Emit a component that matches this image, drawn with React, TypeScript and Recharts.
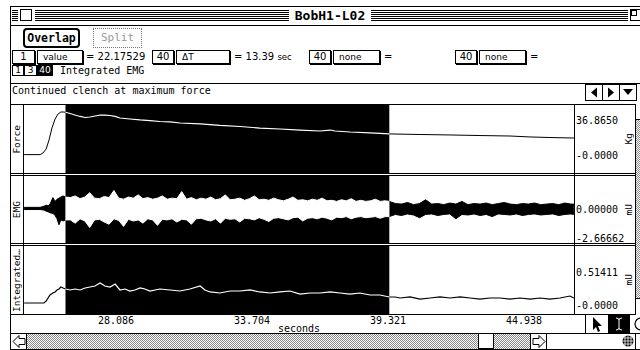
import React from 'react';
import { ComposedChart, Line, Area, XAxis, YAxis, ReferenceArea } from 'recharts';

const MONO = '"DejaVu Sans Mono", monospace';
const SANS = '"DejaVu Sans", sans-serif';

// ---------- time axis (seconds) ----------
const T_MIN = 24.286;
const T_MAX = 47.004;
const SEL_START = 26.0;
const SEL_END = 39.375;
const timeTicks = [28.086, 33.704, 39.321, 44.938];
const timeTickLabels = ['28.086', '33.704', '39.321', '44.938'];

// ---------- Force (Kg) ----------
const forceTime = [24.29, 24.95, 25.07, 25.20, 25.32, 25.44, 25.57, 25.69, 25.81, 25.90,
  26.0, 26.19, 26.39, 26.60, 26.81, 27.01, 27.22, 27.43, 27.63, 27.84,
  28.05, 28.25, 28.66, 29.08, 29.49, 29.90, 30.32, 30.73, 31.56, 32.38,
  33.21, 34.03, 34.86, 35.69, 36.51, 36.93, 37.13, 37.75, 38.58, 39.375,
  40.64, 41.88, 43.12, 44.36, 45.19, 46.01, 47.0];
const forceKg = [0.4, 0.4, 2.1, 6.3, 15.8, 28.4, 37.9, 43.2, 45.3, 45.3,
  45.0, 43.7, 42.1, 40.6, 39.5, 40.0, 41.1, 42.1, 42.1, 41.6,
  40.6, 39.0, 37.9, 36.9, 36.3, 35.3, 34.8, 33.7, 32.7, 31.1,
  30.0, 28.4, 27.4, 26.3, 25.3, 26.3, 25.3, 24.2, 23.2, 22.2,
  21.6, 21.1, 20.5, 20.0, 19.0, 18.4, 17.9];
const forceTicks = [36.865, 0];
const forceTickLabels = ['36.8650', '-0.0000'];

// ---------- EMG (mU) envelope ----------
const emgTime = [24.29, 24.95, 25.11, 25.20, 25.28, 25.36, 25.48, 25.57, 25.65, 25.73, 25.81, 25.90, 26.0,
  26.2, 26.4, 26.6, 26.8, 27.0, 27.2, 27.4, 27.6, 27.8, 28.0, 28.2, 28.4, 28.6, 28.8, 29.0, 29.2, 29.4, 29.6, 29.8, 30.0,
  30.2, 30.4, 30.6, 30.8, 31.0, 31.2, 31.4, 31.6, 31.8, 32.0, 32.2, 32.4, 32.6, 32.8, 33.0, 33.2, 33.4, 33.6, 33.8, 34.0,
  34.2, 34.4, 34.6, 34.8, 35.0, 35.2, 35.4, 35.6, 35.8, 36.0, 36.2, 36.4, 36.6, 36.8, 37.0, 37.2, 37.4, 37.6, 37.8, 38.0,
  38.2, 38.4, 38.6, 38.8, 39.0, 39.2, 39.375,
  39.625, 39.875, 40.125, 40.375, 40.625, 40.875, 41.125, 41.375, 41.625, 41.875,
  42.125, 42.375, 42.625, 42.875, 43.125, 43.375, 43.625, 43.875, 44.125, 44.375,
  44.625, 44.875, 45.125, 45.375, 45.625, 45.875, 46.125, 46.375, 46.625, 46.875, 47.0];
const emgHigh = [0.15, 0.15, 0.25, 0.35, 0.3, 0.45, 1.05, 0.7, 0.9, 1.0, 1.1, 1.2, 1.1,
  1.05, 1.2, 0.95, 1.1, 1.5, 1.0, 0.95, 1.15, 1.05, 1.7, 1.0, 0.9, 1.1, 1.0, 1.3, 0.95, 1.05, 0.9, 1.0, 1.2,
  0.9, 1.0, 0.95, 1.6, 0.9, 1.05, 0.85, 1.0, 0.9, 1.1, 0.85, 0.95, 1.3, 0.85, 0.9, 1.0, 0.8, 0.95, 1.2, 0.85,
  0.9, 0.8, 1.0, 0.85, 0.75, 0.9, 1.1, 0.8, 0.85, 0.75, 0.9, 0.8, 1.0, 0.75, 0.8, 0.7, 0.85, 0.75, 0.95, 0.7,
  0.8, 0.7, 0.75, 0.9, 0.7, 0.75, 0.7,
  0.5, 0.45, 0.6, 0.4, 0.5, 0.85, 0.45, 0.5, 0.4, 0.55,
  0.45, 0.7, 0.4, 0.5, 0.45, 0.55, 0.4, 0.5, 0.6, 0.45,
  0.4, 0.5, 0.45, 0.55, 0.4, 0.45, 0.5, 0.4, 0.55, 0.45, 0.45];
const emgLow = [-0.05, -0.05, -0.1, -0.2, -0.25, -0.35, -0.4, -0.6, -0.9, -1.45, -1.0, -1.1, -1.0,
  -1.0, -1.3, -0.9, -1.1, -1.7, -1.0, -0.95, -1.2, -1.4, -0.9, -1.05, -1.6, -0.95, -1.1, -1.0, -1.3, -0.9, -1.0, -1.5, -0.95,
  -1.0, -0.9, -1.2, -0.95, -1.0, -1.4, -0.9, -0.85, -1.0, -1.1, -0.9, -1.3, -0.85, -0.95, -0.9, -1.2, -0.85, -0.9, -1.0, -0.8,
  -0.95, -1.15, -0.85, -0.8, -0.9, -1.0, -0.8, -0.75, -1.1, -0.85, -0.8, -0.9, -0.75, -0.85, -1.0, -0.75, -0.8, -0.7, -0.9, -0.75,
  -0.7, -0.8, -0.75, -0.7, -0.85, -0.7, -0.7,
  -0.5, -0.6, -0.45, -0.55, -0.8, -0.5, -0.45, -0.6, -0.5, -0.45,
  -0.9, -0.5, -0.55, -0.45, -0.6, -0.5, -0.7, -0.45, -0.5, -0.55,
  -0.45, -0.6, -0.5, -0.45, -0.55, -0.5, -0.45, -0.6, -0.5, -0.45, -0.5];
const emgTicks = [0, -2.66662];
const emgTickLabels = ['0.00000', '-2.66662'];

// ---------- Integrated EMG (mU) ----------
const integTime = [24.29, 24.95, 25.11, 25.20, 25.28, 25.36, 25.48, 25.57, 25.65, 25.73,
  25.81, 25.90, 26.0, 26.19, 26.39, 26.60, 26.81, 27.01, 27.22, 27.43,
  27.63, 27.84, 28.05, 28.25, 28.46, 28.66, 28.87, 29.08, 29.28, 29.49,
  29.70, 29.90, 30.32, 30.73, 31.14, 31.56, 31.76, 31.97, 32.38, 32.80,
  33.21, 33.62, 34.03, 34.45, 34.86, 35.27, 35.69, 36.10, 36.51, 36.93,
  37.34, 37.75, 38.16, 38.58, 38.99, 39.375, 39.61, 39.82, 40.23, 40.64,
  41.06, 41.47, 41.88, 42.30, 42.71, 43.12, 43.53, 43.95, 44.36, 44.77,
  45.19, 45.60, 46.01, 46.43, 46.84, 47.0];
const integMv = [0.031, 0.031, 0.031, 0.062, 0.109, 0.156, 0.187, 0.203, 0.234, 0.249,
  0.280, 0.265, 0.249, 0.234, 0.249, 0.234, 0.265, 0.280, 0.296, 0.343,
  0.296, 0.280, 0.327, 0.234, 0.249, 0.218, 0.234, 0.265, 0.249, 0.218,
  0.234, 0.249, 0.234, 0.218, 0.249, 0.296, 0.234, 0.203, 0.187, 0.218,
  0.218, 0.234, 0.203, 0.187, 0.203, 0.218, 0.171, 0.187, 0.187, 0.203,
  0.187, 0.171, 0.187, 0.156, 0.156, 0.125, 0.125, 0.109, 0.125, 0.093,
  0.109, 0.125, 0.109, 0.125, 0.109, 0.093, 0.109, 0.109, 0.093, 0.109,
  0.093, 0.109, 0.093, 0.109, 0.140, 0.109];
const integTicks = [0.51411, 0];
const integTickLabels = ['0.51411', '-0.0000'];

// ---------- axis domains ----------
const FORCE_DOMAIN = [-18.959, 52.664];
const EMG_DOMAIN = [-3.1264, 3.0344];
const INTEG_DOMAIN = [-0.14021, 0.91917];

// ---------- tables ----------
const inSel = (t: number) => t >= SEL_START && t <= SEL_END;
const outSel = (t: number) => t <= SEL_START || t >= SEL_END;

const forceRows = forceTime.map((t, i) => ({
  t, inside: inSel(t) ? forceKg[i] : null, outside: outSel(t) ? forceKg[i] : null,
}));
const emgRows = emgTime.map((t, i) => ({
  t,
  inside: inSel(t) ? [emgLow[i], emgHigh[i]] : null,
  outside: outSel(t) ? [emgLow[i], emgHigh[i]] : null,
}));
const integRows = integTime.map((t, i) => ({
  t, inside: inSel(t) ? integMv[i] : null, outside: outSel(t) ? integMv[i] : null,
}));

const fmt = (vals: number[], labels: string[]) => (v: number) => {
  const i = vals.findIndex((x) => Math.abs(x - v) < 1e-9);
  return i >= 0 ? labels[i] : '';
};

const axisTick = { fill: '#000', fontFamily: MONO, fontSize: 10 };
const MARGIN = { top: 0, right: 0, bottom: 0, left: 0 };
const CHART_W = 612;
const AXIS_W = 62;

// ---------- chrome helpers ----------
type BoxProps = { x: number; y: number; w: number; h: number; style?: React.CSSProperties; children?: React.ReactNode };
const Box = ({ x, y, w, h, style, children }: BoxProps) => (
  <div style={{ position: 'absolute', left: x, top: y, width: w, height: h, boxSizing: 'border-box', ...style }}>{children}</div>
);
const HL = ({ x1, x2, y }: { x1: number; x2: number; y: number }) => <Box x={x1} y={y} w={x2 - x1} h={1} style={{ background: '#000' }} />;
const VL = ({ x, y1, y2 }: { x: number; y1: number; y2: number }) => <Box x={x} y={y1} w={1} h={y2 - y1} style={{ background: '#000' }} />;

const stripes: React.CSSProperties = {
  backgroundImage: 'repeating-linear-gradient(to bottom, #000 0px, #000 1px, transparent 1px, transparent 2px)',
};
const dither: React.CSSProperties = {
  backgroundImage: 'repeating-conic-gradient(#888 0% 25%, #fff 0% 50%)',
  backgroundSize: '2px 2px',
};

const Pop = ({ x, y, w, h, text, align = 'left', dark = false, size = 9 }: { x: number; y: number; w: number; h: number; text: string; align?: 'left' | 'center'; dark?: boolean; size?: number }) => (
  <Box x={x} y={y} w={w} h={h} style={{
    border: '1px solid #000', boxShadow: dark ? 'none' : '1px 1px 0 #000', background: dark ? '#000' : '#fff',
    color: dark ? '#fff' : '#000', fontFamily: SANS, fontSize: size, lineHeight: `${h - 2}px`,
    textAlign: align, paddingLeft: align === 'left' ? 5 : 0, whiteSpace: 'nowrap', overflow: 'hidden',
  }}>{text}</Box>
);

const Txt = ({ x, y, h, text, font = SANS, size = 10, style }: { x: number; y: number; h: number; text: React.ReactNode; font?: string; size?: number; style?: React.CSSProperties }) => (
  <div style={{ position: 'absolute', left: x, top: y, height: h, lineHeight: `${h}px`, fontFamily: font, fontSize: size, color: '#000', whiteSpace: 'nowrap', ...style }}>{text}</div>
);

const VText = ({ x, y, w, h, text, size = 9.5 }: { x: number; y: number; w: number; h: number; text: string; size?: number }) => (
  <Box x={x} y={y} w={w} h={h} style={{ display: 'flex', alignItems: 'center', justifyContent: 'center', overflow: 'hidden' }}>
    <span style={{ writingMode: 'vertical-rl', transform: 'rotate(180deg)', fontFamily: MONO, fontSize: size, lineHeight: `${w}px`, color: '#000', whiteSpace: 'nowrap' }}>{text}</span>
  </Box>
);

export default function App() {
  return (
    <div style={{ position: 'fixed', left: 0, top: 0, width: 640, height: 350, overflow: 'hidden', background: '#fff' }}>
      {/* ---------- charts ---------- */}
      <div style={{ position: 'absolute', left: 24, top: 105 }}>
        <ComposedChart width={CHART_W} height={68} data={forceRows} margin={MARGIN}>
          <XAxis type="number" dataKey="t" domain={[T_MIN, T_MAX]} allowDataOverflow hide />
          <YAxis orientation="right" width={AXIS_W} type="number" domain={FORCE_DOMAIN} allowDataOverflow
            ticks={forceTicks} interval={0} tickFormatter={fmt(forceTicks, forceTickLabels)}
            axisLine={false} tickLine={false} tickSize={0} tickMargin={2} tick={axisTick} />
          <ReferenceArea x1={SEL_START} x2={SEL_END} fill="#000" fillOpacity={1} stroke="none" />
          <Line type="linear" dataKey="outside" stroke="#000" strokeWidth={1} dot={false} isAnimationActive={false} />
          <Line type="linear" dataKey="inside" stroke="#fff" strokeWidth={1.2} dot={false} isAnimationActive={false} />
        </ComposedChart>
      </div>

      <div style={{ position: 'absolute', left: 24, top: 176 }}>
        <ComposedChart width={CHART_W} height={67} data={emgRows} margin={MARGIN}>
          <XAxis type="number" dataKey="t" domain={[T_MIN, T_MAX]} allowDataOverflow hide />
          <YAxis orientation="right" width={AXIS_W} type="number" domain={EMG_DOMAIN} allowDataOverflow
            ticks={emgTicks} interval={0} tickFormatter={fmt(emgTicks, emgTickLabels)}
            axisLine={false} tickLine={false} tickSize={0} tickMargin={2} tick={axisTick} />
          <ReferenceArea x1={SEL_START} x2={SEL_END} fill="#000" fillOpacity={1} stroke="none" />
          <Area type="linear" dataKey="outside" stroke="#000" strokeWidth={1} fill="#000" fillOpacity={1} dot={false} isAnimationActive={false} />
          <Area type="linear" dataKey="inside" stroke="#fff" strokeWidth={1} fill="#fff" fillOpacity={1} dot={false} isAnimationActive={false} />
        </ComposedChart>
      </div>

      <div style={{ position: 'absolute', left: 24, top: 246 }}>
        <ComposedChart width={CHART_W} height={87} data={integRows} margin={MARGIN}>
          <XAxis type="number" dataKey="t" domain={[T_MIN, T_MAX]} allowDataOverflow height={19}
            ticks={timeTicks} interval={0} tickFormatter={fmt(timeTicks, timeTickLabels)}
            axisLine={false} tickLine={false} tickSize={0} tickMargin={3} tick={axisTick}
            label={{ value: 'seconds', position: 'insideBottom', offset: 1, fill: '#000', fontFamily: MONO, fontSize: 10 }} />
          <YAxis orientation="right" width={AXIS_W} type="number" domain={INTEG_DOMAIN} allowDataOverflow
            ticks={integTicks} interval={0} tickFormatter={fmt(integTicks, integTickLabels)}
            axisLine={false} tickLine={false} tickSize={0} tickMargin={2} tick={axisTick} />
          <ReferenceArea x1={SEL_START} x2={SEL_END} fill="#000" fillOpacity={1} stroke="none" />
          <Line type="linear" dataKey="outside" stroke="#000" strokeWidth={1.2} dot={false} isAnimationActive={false} />
          <Line type="linear" dataKey="inside" stroke="#fff" strokeWidth={1.2} dot={false} isAnimationActive={false} />
        </ComposedChart>
      </div>

      {/* ---------- window frame ---------- */}
      <Box x={10} y={6} w={640} h={344} style={{ border: '1px solid #000' }} />
      {/* title bar */}
      <Box x={12} y={10} w={6} h={11} style={stripes} />
      <Box x={35} y={10} w={254} h={11} style={stripes} />
      <Box x={371} y={10} w={257} h={11} style={stripes} />
      <Box x={20} y={9} w={12} h={12} style={{ border: '1px solid #000', background: '#fff' }} />
      <Box x={630} y={9} w={12} h={12} style={{ border: '1px solid #000', background: '#fff' }}>
        <div style={{ position: 'absolute', left: 0, top: 0, width: 6, height: 6, border: '1px solid #000', boxSizing: 'border-box' }} />
      </Box>
      <Box x={289} y={7} w={82} h={18} style={{ textAlign: 'center', lineHeight: '18px', fontFamily: MONO, fontWeight: 'bold', fontSize: 13 }}>BobH1-L02</Box>
      <HL x1={10} x2={640} y={25} />

      {/* buttons */}
      <Box x={23} y={28} w={57} h={20} style={{ border: '2px solid #000', borderRadius: 4, textAlign: 'center', lineHeight: '16px', fontFamily: MONO, fontWeight: 'bold', fontSize: 11.5 }}>Overlap</Box>
      <Box x={93} y={28} w={49} h={20} style={{ border: '1px dotted #777', textAlign: 'center', lineHeight: '18px', fontFamily: MONO, fontSize: 11, color: '#999' }}>Split</Box>

      {/* value row */}
      <Pop x={12} y={50} w={23} h={14} text="1" align="center" size={10} />
      <Pop x={37} y={50} w={46} h={14} text="value" />
      <Txt x={86} y={50} h={14} text="= 22.17529" />
      <Pop x={152} y={50} w={22} h={14} text="40" align="center" size={10} />
      <Pop x={176} y={50} w={54} h={14} text="ΔT" />
      <Txt x={234} y={50} h={14} text={<span>= 13.39 <span style={{ fontSize: 8.5 }}>sec</span></span>} />
      <Pop x={309} y={50} w={22} h={14} text="40" align="center" size={10} />
      <Pop x={333} y={50} w={47} h={14} text="none" />
      <Txt x={384} y={50} h={14} text="=" />
      <Pop x={455} y={50} w={22} h={14} text="40" align="center" size={10} />
      <Pop x={479} y={50} w={47} h={14} text="none" />
      <Txt x={530} y={50} h={14} text="=" />

      {/* channel row */}
      <Box x={12} y={65} w={12} h={11} style={{ border: '1px solid #000', fontFamily: SANS, fontSize: 9, lineHeight: '9px', textAlign: 'center' }}>1</Box>
      <Box x={24} y={65} w={13} h={11} style={{ border: '1px solid #000', fontFamily: SANS, fontSize: 9, lineHeight: '9px', textAlign: 'center' }}>3</Box>
      <Box x={37} y={65} w={16} h={11} style={{ border: '1px solid #000', background: '#000', color: '#fff', fontFamily: SANS, fontSize: 9, lineHeight: '9px', textAlign: 'center' }}>40</Box>
      <Txt x={60} y={64} h={13} text="Integrated EMG" font={MONO} size={10} />

      {/* comment row */}
      <HL x1={10} x2={640} y={83} />
      <Txt x={12} y={84} h={13} text="Continued clench at maximum force" font={MONO} size={10} />
      {[585, 602, 619].map((x, i) => (
        <Box key={x} x={x} y={84} w={18} h={17} style={{ border: '1px solid #000', background: '#fff' }}>
          <svg width={16} height={15} style={{ position: 'absolute', left: 0, top: 0 }}>
            {i === 0 && <polygon points="5,7.5 11,2.5 11,12.5" fill="#000" />}
            {i === 1 && <polygon points="11,7.5 5,2.5 5,12.5" fill="#000" />}
            {i === 2 && <polygon points="3,4 13,4 8,10" fill="#000" />}
          </svg>
        </Box>
      ))}

      {/* panel borders */}
      {[104, 173, 175, 243, 245, 314].map((y) => <HL key={y} x1={10} x2={636} y={y} />)}
      <VL x={23} y1={104} y2={315} />
      <VL x={574} y1={104} y2={315} />
      <VL x={635} y1={104} y2={315} />
      {/* right vertical scroll bar */}
      <Box x={636} y={105} w={6} h={209} style={dither} />
      <Box x={636} y={105} w={6} h={15} style={{ background: '#fff', borderBottom: '1px solid #000' }} />
      <Box x={636} y={298} w={6} h={16} style={{ background: '#fff', borderTop: '1px solid #000' }} />

      {/* channel names */}
      <VText x={11} y={105} w={12} h={68} text="Force" />
      <VText x={11} y={176} w={12} h={67} text="EMG" />
      <VText x={11} y={246} w={12} h={68} text="Integrated…" />
      {/* units */}
      <VText x={623} y={105} w={12} h={68} text="Kg" />
      <VText x={623} y={176} w={12} h={67} text="mU" />
      <VText x={623} y={246} w={12} h={68} text="mU" />

      {/* tool palette */}
      <VL x={585} y1={314} y2={333} />
      <svg width={23} height={19} style={{ position: 'absolute', left: 586, top: 315 }}>
        <polygon points="7,2 7,15 10,12 12,17 14,16 12,11 16,11" fill="#000" />
      </svg>
      <Box x={608} y={315} w={22} h={18} style={{ background: '#000' }}>
        <svg width={22} height={18} style={{ position: 'absolute', left: 0, top: 0 }}>
          <path d="M8,3 Q11,3 11,5 L11,13 Q11,15 8,15 M14,3 Q11,3 11,5 M11,13 Q11,15 14,15" stroke="#fff" strokeWidth={1} fill="none" />
        </svg>
      </Box>
      <svg width={10} height={19} style={{ position: 'absolute', left: 632, top: 315 }}>
        <circle cx={9} cy={9} r={6} stroke="#000" fill="none" strokeWidth={1.2} />
      </svg>

      {/* bottom scroll bar */}
      <HL x1={10} x2={640} y={333} />
      <svg width={16} height={15} style={{ position: 'absolute', left: 11, top: 334 }}>
        <polygon points="2,7.5 8,1.5 8,4.5 14,4.5 14,10.5 8,10.5 8,13.5" fill="#fff" stroke="#000" strokeWidth={1} />
      </svg>
      <VL x={26} y1={333} y2={349} />
      <Box x={27} y={334} w={451} h={15} style={dither} />
      <Box x={478} y={333} w={16} h={16} style={{ border: '1px solid #000', background: '#fff' }} />
      <Box x={494} y={334} w={36} h={15} style={dither} />
      <VL x={530} y1={333} y2={349} />
      <svg width={16} height={15} style={{ position: 'absolute', left: 531, top: 334 }}>
        <polygon points="14,7.5 8,1.5 8,4.5 2,4.5 2,10.5 8,10.5 8,13.5" fill="#fff" stroke="#000" strokeWidth={1} />
      </svg>
      <VL x={546} y1={333} y2={349} />
      <svg width={12} height={12} style={{ position: 'absolute', left: 622, top: 335 }}>
        <circle cx={6} cy={6} r={5.5} fill="#000" />
        <path d="M0.5,6 H11.5 M6,0.5 V11.5 M1.5,3 H10.5 M1.5,9 H10.5 M3,1 V11 M9,1 V11" stroke="#fff" strokeWidth={0.8} />
      </svg>
      <VL x={635} y1={333} y2={349} />
    </div>
  );
}
